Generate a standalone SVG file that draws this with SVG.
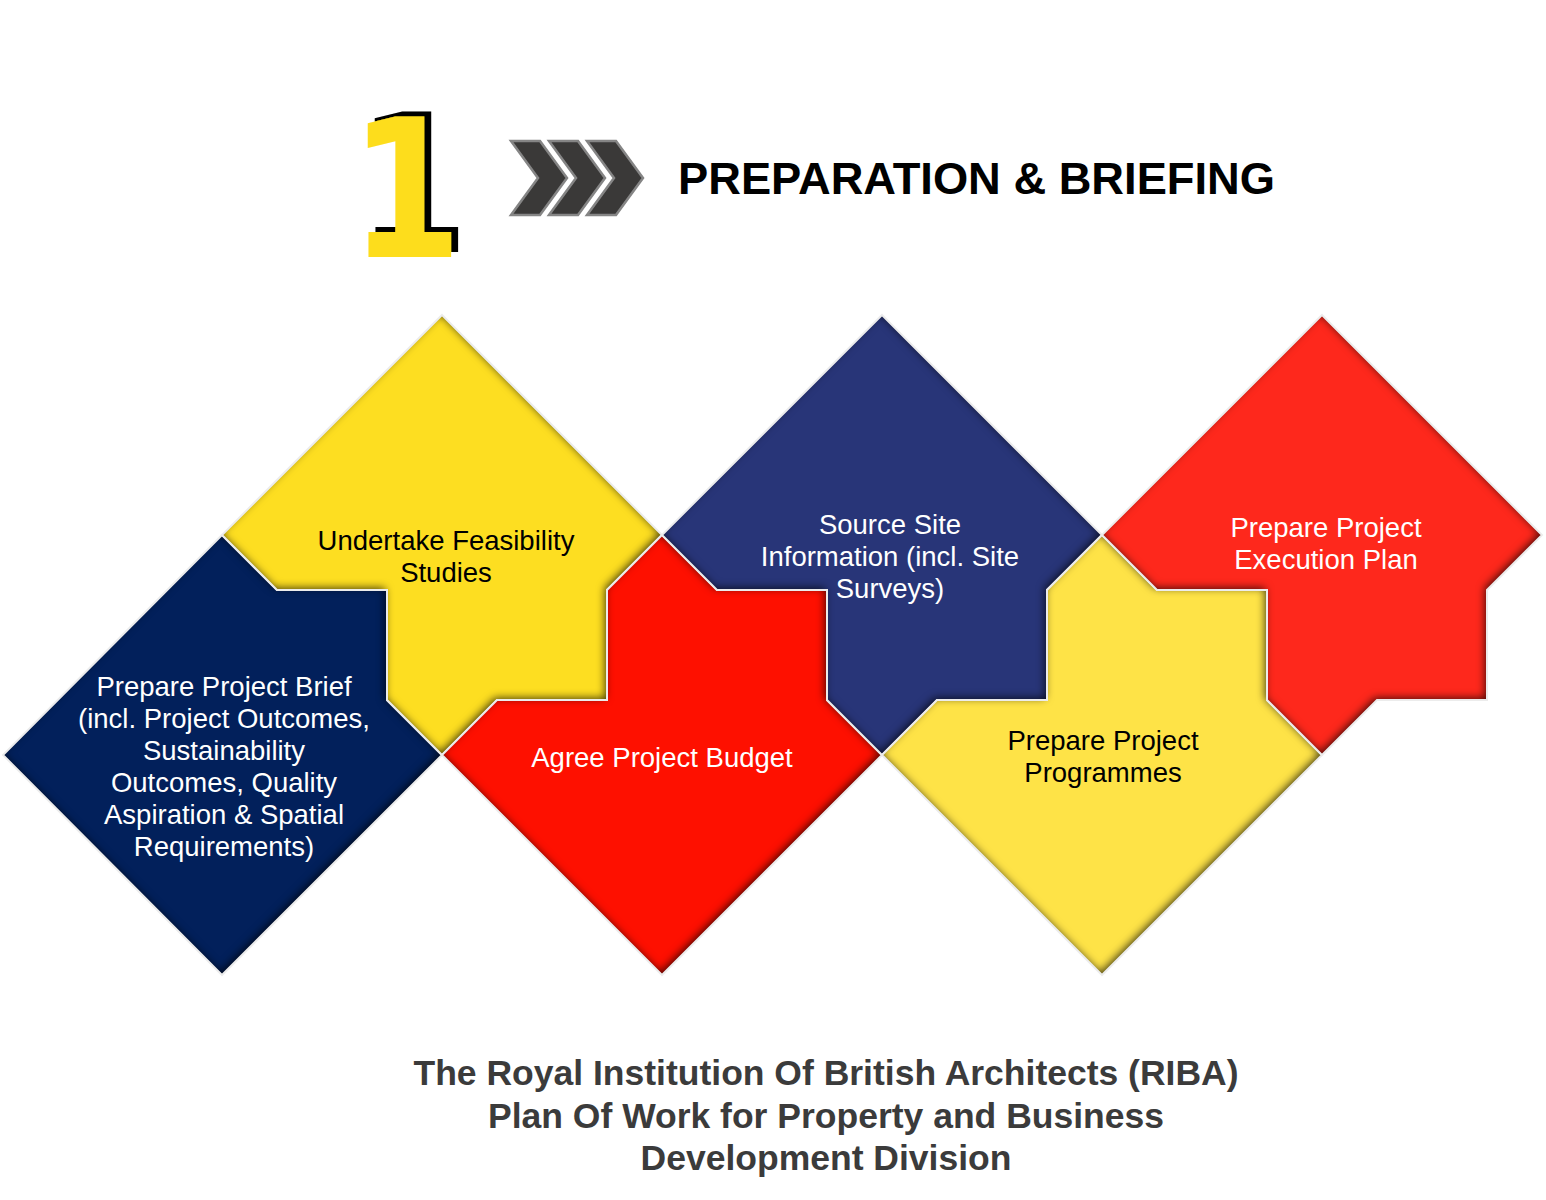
<svg xmlns="http://www.w3.org/2000/svg" xmlns:xlink="http://www.w3.org/1999/xlink" width="1546" height="1200" viewBox="0 0 1546 1200">
<style>
.lbl{font-family:"Liberation Sans",Arial,Helvetica,sans-serif;font-size:27.5px;text-anchor:middle}
.w{fill:#ffffff}
.k{fill:#000000}
.edge{fill:none;stroke:#ececec;stroke-width:2;stroke-linejoin:miter}
.chev{fill:#3a3938;stroke:#858585;stroke-width:2.5;stroke-linejoin:miter}
.cap{font-family:"Liberation Sans",Arial,Helvetica,sans-serif;font-size:35.5px;font-weight:bold;fill:#3b3b3b;text-anchor:middle}
</style>
<defs>
<filter id="inner" x="-10%" y="-10%" width="120%" height="120%" color-interpolation-filters="sRGB">
<feComponentTransfer in="SourceAlpha" result="inv"><feFuncA type="table" tableValues="1 0"/></feComponentTransfer>
<feGaussianBlur in="inv" stdDeviation="4.5"/>
<feOffset dx="-2" dy="-2" result="ob"/>
<feFlood flood-color="#000000" flood-opacity="0.72"/>
<feComposite in2="ob" operator="in"/>
<feComposite in2="SourceAlpha" operator="in" result="sh"/>
<feMerge><feMergeNode in="SourceGraphic"/><feMergeNode in="sh"/></feMerge>
</filter>
<filter id="numshadow" x="-20%" y="-20%" width="140%" height="140%">
<feOffset in="SourceAlpha" dx="8" dy="-5" result="off"/>
<feFlood flood-color="#000000"/>
<feComposite in2="off" operator="in" result="blk"/>
<feMerge><feMergeNode in="blk"/><feMergeNode in="SourceGraphic"/></feMerge>
</filter>
<path id="p-n1" d="M222,535 L277,590 L387,590 L387,700 L442,755 L222,975 L3,755 Z"/>
<path id="p-y1" d="M442,315 L662,535 L607,590 L607,700 L497,700 L442,755 L387,700 L387,590 L277,590 L222,535 Z"/>
<path id="p-r1" d="M662,535 L717,590 L827,590 L827,700 L882,755 L662,975 L442,755 L497,700 L607,700 L607,590 Z"/>
<path id="p-n2" d="M882,315 L1102,535 L1047,590 L1047,700 L937,700 L882,755 L827,700 L827,590 L717,590 L662,535 Z"/>
<path id="p-y2" d="M1102,535 L1157,590 L1267,590 L1267,700 L1322,755 L1102,975 L882,755 L937,700 L1047,700 L1047,590 Z"/>
<path id="p-r2" d="M1322,315 L1542,535 L1487,590 L1487,700 L1377,700 L1322,755 L1267,700 L1267,590 L1157,590 L1102,535 Z"/>
</defs>
<rect width="1546" height="1200" fill="#ffffff"/>

<g id="header">
<g transform="translate(406,257) scale(0.84,1)">
<text x="0" y="0" font-family="DejaVu Sans, sans-serif" font-weight="bold" font-size="193" text-anchor="middle" fill="#fddd1d" filter="url(#numshadow)">1</text>
</g>
<polygon class="chev" points="511,141 540,141 567,178 540,215 511,215 538,178"/>
<polygon class="chev" points="549,141 578,141 605,178 578,215 549,215 576,178"/>
<polygon class="chev" points="587,141 616,141 643,178 616,215 587,215 614,178"/>
<text x="678" y="194" font-family="Liberation Sans, Arial, sans-serif" font-weight="bold" font-size="45" fill="#000000" textLength="597" lengthAdjust="spacingAndGlyphs">PREPARATION &amp; BRIEFING</text>
</g>

<g id="connectors"></g>

<g id="node-brief">
<use xlink:href="#p-n1" fill="#02205b" filter="url(#inner)"/>
<use xlink:href="#p-n1" class="edge"/>
<text class="lbl w"><tspan x="224" y="696">Prepare Project Brief</tspan><tspan x="224" y="728">(incl. Project Outcomes,</tspan><tspan x="224" y="760">Sustainability</tspan><tspan x="224" y="792">Outcomes, Quality</tspan><tspan x="224" y="824">Aspiration &amp; Spatial</tspan><tspan x="224" y="856">Requirements)</tspan></text>
</g>

<g id="node-feasibility">
<use xlink:href="#p-y1" fill="#fdde21" filter="url(#inner)"/>
<use xlink:href="#p-y1" class="edge"/>
<text class="lbl k"><tspan x="446" y="550">Undertake Feasibility</tspan><tspan x="446" y="582">Studies</tspan></text>
</g>

<g id="node-budget">
<use xlink:href="#p-r1" fill="#fe1000" filter="url(#inner)"/>
<use xlink:href="#p-r1" class="edge"/>
<text class="lbl w" x="662" y="767">Agree Project Budget</text>
</g>

<g id="node-site">
<use xlink:href="#p-n2" fill="#283578" filter="url(#inner)"/>
<use xlink:href="#p-n2" class="edge"/>
<text class="lbl w"><tspan x="890" y="534">Source Site</tspan><tspan x="890" y="566">Information (incl. Site</tspan><tspan x="890" y="598">Surveys)</tspan></text>
</g>

<g id="node-programmes">
<use xlink:href="#p-y2" fill="#fee347" filter="url(#inner)"/>
<use xlink:href="#p-y2" class="edge"/>
<text class="lbl k"><tspan x="1103" y="750">Prepare Project</tspan><tspan x="1103" y="782">Programmes</tspan></text>
</g>

<g id="node-execution">
<use xlink:href="#p-r2" fill="#fe281c" filter="url(#inner)"/>
<use xlink:href="#p-r2" class="edge"/>
<text class="lbl w"><tspan x="1326" y="537">Prepare Project</tspan><tspan x="1326" y="569">Execution Plan</tspan></text>
</g>

<g id="caption">
<text class="cap" x="826" y="1085">The Royal Institution Of British Architects (RIBA)</text>
<text class="cap" x="826" y="1128">Plan Of Work for Property and Business</text>
<text class="cap" x="826" y="1170">Development Division</text>
</g>
</svg>
